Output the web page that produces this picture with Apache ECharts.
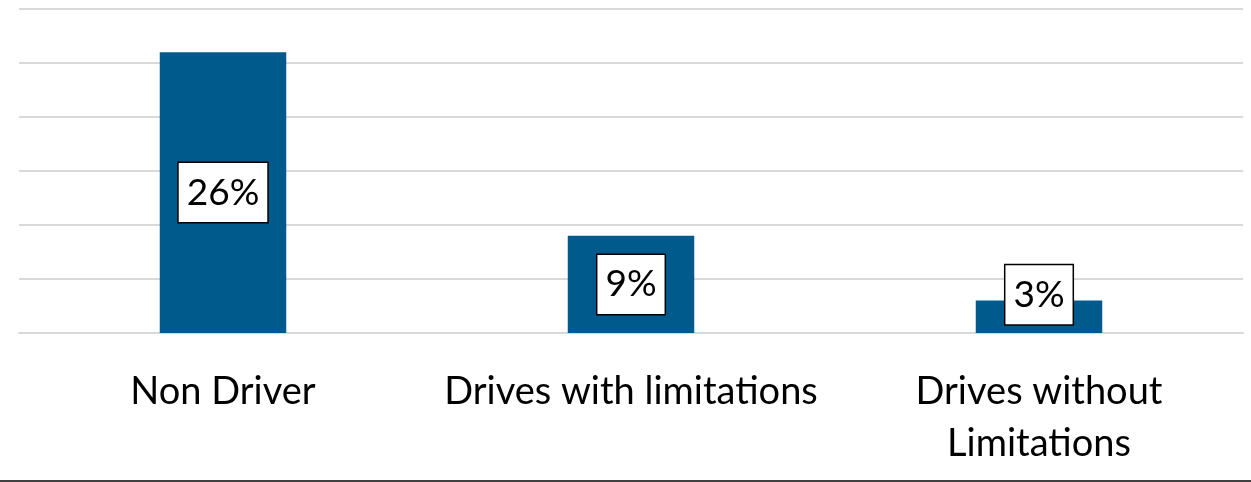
<!DOCTYPE html>
<html>
<head>
<meta charset="utf-8">
<script src="https://cdn.jsdelivr.net/npm/echarts@6/dist/echarts.min.js"></script>
<style>
  html, body { margin: 0; padding: 0; background: #ffffff; }
  #chart { width: 1251px; height: 482px; }
</style>
</head>
<body>
<div id="chart"></div>
<script>
// Share of respondents by driving status
const categories = ['Non Driver', 'Drives with limitations', 'Drives without\nLimitations'];
const values = [26, 9, 3];
const labelTexts = ['26%', '9%', '3%'];

const chart = echarts.init(document.getElementById('chart'));

const barData = values.map(function (v, i) {
  const item = { value: v };
  // small bars push their label box upward so it stays readable
  if (v < 5) {
    item.label = { offset: [0, -22] };
  }
  return item;
});

chart.setOption({
  animation: false,
  grid: { left: 19, right: 8, top: 9, bottom: 149, containLabel: false },
  xAxis: {
    type: 'category',
    data: categories,
    axisLine: { show: true, lineStyle: { color: '#d9d9d9', width: 2 } },
    axisTick: { show: false },
    axisLabel: {
      margin: 33,
      fontFamily: 'Lato, "Noto Sans", sans-serif',
      fontSize: 38,
      lineHeight: 52,
      color: '#000000',
      interval: 0
    }
  },
  yAxis: {
    type: 'value',
    min: 0,
    max: 30,
    interval: 5,
    axisLabel: { show: false },
    axisLine: { show: false },
    axisTick: { show: false },
    splitLine: { lineStyle: { color: '#d9d9d9', width: 2 } }
  },
  series: [{
    type: 'bar',
    data: barData,
    barWidth: '31%',
    itemStyle: { color: '#005a8c' },
    label: {
      show: true,
      position: 'inside',
      formatter: function (p) { return labelTexts[p.dataIndex]; },
      fontFamily: 'Lato, "Noto Sans", sans-serif',
      fontSize: 37,
      lineHeight: 40,
      color: '#000000',
      backgroundColor: '#ffffff',
      borderColor: '#000000',
      borderWidth: 1.5,
      padding: [10, 8, 9, 8]
    }
  }],
  graphic: [{
    type: 'line',
    shape: { x1: 0, y1: 481, x2: 1251, y2: 481 },
    style: { stroke: '#404040', lineWidth: 2 }
  }]
});
</script>
</body>
</html>
